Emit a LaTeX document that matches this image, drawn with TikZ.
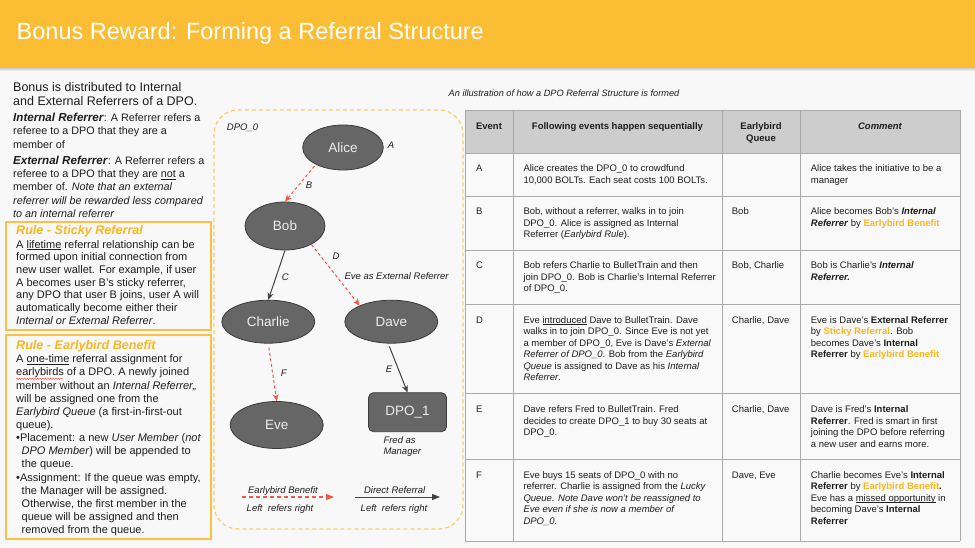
\documentclass[tikz,border=0pt]{standalone}
\usepackage{fontspec}
\setmainfont{Liberation Sans}
\usetikzlibrary{arrows.meta,decorations.pathmorphing,shapes.geometric}

\definecolor{hdr}{RGB}{251,189,51}
\definecolor{pagebg}{RGB}{248,248,248}
\definecolor{ruleorg}{RGB}{251,192,70}
\definecolor{dashorg}{RGB}{253,206,112}
\definecolor{nodefill}{RGB}{102,102,102}
\definecolor{nodeline}{RGB}{58,58,58}
\definecolor{nodetext}{RGB}{238,238,238}
\definecolor{refred}{RGB}{240,88,72}
\definecolor{darkarrow}{RGB}{64,64,64}
\definecolor{tblline}{RGB}{170,170,170}
\definecolor{tblhead}{RGB}{205,205,205}
\definecolor{cellbg}{RGB}{249,249,249}
\definecolor{txt}{RGB}{30,30,30}
\definecolor{hl}{RGB}{250,183,32}

\newcommand{\fsz}[2]{\fontsize{#1}{#2}\selectfont}
\newcommand{\bolditl}[1]{\textbf{\textit{#1}}}
\newcommand{\hlb}[1]{\textcolor{hl}{\textbf{#1}}}
% underline at a fixed distance below the baseline
\newcommand{\undl}[1]{\setbox0\hbox{#1}\rlap{\rule[-1.7pt]{\wd0}{0.55pt}}\box0\relax}
% multi-line blocks whose reference point is the baseline of the first line
\newcommand{\leftlines}[1]{\begin{tabular}[t]{@{}l@{}}#1\end{tabular}}
\newcommand{\centerlines}[1]{\begin{tabular}[t]{@{}c@{}}#1\end{tabular}}

\begin{document}
\begin{tikzpicture}[x=1pt,y=-1pt,
  lefttext/.style={anchor=base west, inner sep=0pt, text=txt},
  ruletitle/.style={anchor=base west, inner sep=0pt, text=hl, font=\fsz{12.6}{15}\bfseries\itshape},
  rulebox/.style={draw=ruleorg, line width=1.3pt},
  person/.style={ellipse, draw=nodeline, fill=nodefill, line width=0.8pt, text=nodetext,
    font=\fsz{13.5}{16}, inner sep=0pt},
  dpobox/.style={rectangle, rounded corners=5pt, draw=nodeline, fill=nodefill, line width=0.8pt,
    text=nodetext, font=\fsz{13.5}{16}, inner sep=0pt, minimum width=78pt, minimum height=39pt},
  lbl/.style={anchor=base west, inner sep=0pt, font=\fsz{9.5}{11}\itshape, text=txt},
  early/.style={refred, line width=1pt, dash pattern=on 3pt off 2.5pt, -{Stealth[length=7pt,width=6pt]}},
  direct/.style={darkarrow, line width=1pt, -{Stealth[length=7pt,width=6pt]}},
  earlyleg/.style={refred, line width=1.3pt, dash pattern=on 4pt off 3pt, -{Triangle[length=8pt,width=6pt]}},
  directleg/.style={darkarrow, line width=1pt, -{Triangle[length=8pt,width=6pt]}},
  tblrule/.style={draw=tblline, line width=0.9pt},
  cell/.style={anchor=base west, inner sep=0pt, font=\fsz{9.5}{11.5}, text=txt},
  head/.style={anchor=base, inner sep=0pt, font=\fsz{9.5}{11.5}\bfseries, text=txt}]

\useasboundingbox (0,0) rectangle (975,548);
\fill[pagebg] (0,0) rectangle (975,548);

% title bar
\fill[top color=black!28, bottom color=pagebg] (0,66.5) rectangle (975,71);
\fill[hdr] (0,0) rectangle (975,66.7);
\node[anchor=base west, inner sep=0pt, text=white, font=\fsz{23.5}{28}] (title) at (16.5,39.3)
  {Bonus Reward: Forming a Referral Structure};

% left column: definitions
\node[lefttext, font=\fsz{12.5}{14.5}] (intro) at (13,91.3)
  {\leftlines{Bonus is distributed to Internal\\and External Referrers of a DPO.}};
\node[lefttext, font=\fsz{10.8}{13.3}] (intref) at (13,121.7)
  {\leftlines{{\fsz{11.6}{13.3}\bolditl{Internal Referrer}}: A Referrer refers a\\referee to a DPO that they are a\\member of}};
\node[lefttext, font=\fsz{10.8}{13.35}] (extref) at (13,164.3)
  {\leftlines{{\fsz{11.6}{13.35}\bolditl{External Referrer}}: A Referrer refers a\\referee to a DPO that they are \undl{not} a\\member of. \textit{Note that an external}\\\textit{referrer will be rewarded less compared}\\\textit{to an internal referrer}}};

% rule boxes
\draw[rulebox] (6,222) rectangle (211,330);
\node[ruletitle] (stickytitle) at (16,234.5) {Rule - Sticky Referral};
\node[lefttext, font=\fsz{11}{12.67}] (stickybody) at (16,248.3)
  {\leftlines{A \undl{lifetime} referral relationship can be\\formed upon initial connection from\\new user wallet. For example, if user\\A becomes user B's sticky referrer,\\any DPO that user B joins, user A will\\automatically become either their\\\textit{Internal or External Referrer}.}};

\draw[rulebox] (6,335) rectangle (211,539);
\node[ruletitle] (earlytitle) at (16,349) {Rule - Earlybird Benefit};
\node[lefttext, font=\fsz{11}{13.15}] (earlybody) at (16,362.7)
  {\leftlines{A \undl{one-time} referral assignment for\\
   earlybirds of a DPO. A newly joined\\
   member without an \textit{Internal Referrer,,}\\
   will be assigned one from the\\
   \textit{Earlybird Queue} (a first-in-first-out\\
   queue).\\
   •Placement: a new \textit{User Member} (\textit{not}\\
   \hspace*{5.5pt}\textit{DPO Member}) will be appended to\\
   \hspace*{5.5pt}the queue.\\
   •Assignment: If the queue was empty,\\
   \hspace*{5.5pt}the Manager will be assigned.\\
   \hspace*{5.5pt}Otherwise, the first member in the\\
   \hspace*{5.5pt}queue will be assigned and then\\
   \hspace*{5.5pt}removed from the queue.}};
\draw[refred, line width=0.5pt, decorate, decoration={snake, amplitude=0.7pt, segment length=2.6pt}]
  (16,378.8) -- (63,378.8);

% DPO_0 referral graph
\draw[dashorg, line width=1.3pt, dash pattern=on 4pt off 3pt, rounded corners=24pt] (214,110) rectangle (463,529);
\node[lbl] (dpo0lbl) at (226.7,130.7) {DPO\_0};

\node[person, minimum width=80.6pt, minimum height=45pt] (alice) at (343,147.5) {Alice};
\node[person, minimum width=80pt, minimum height=48pt] (bob) at (285,226) {Bob};
\node[person, minimum width=93pt, minimum height=43pt] (charlie) at (268.3,321.7) {Charlie};
\node[person, minimum width=93pt, minimum height=43pt] (dave) at (391.3,321.7) {Dave};
\node[person, minimum width=93pt, minimum height=47pt] (eve) at (276.7,425) {Eve};
\node[dpobox] (dpo1) at (407.5,412.2) {DPO\_1};

\draw[early, shorten <=2pt] (alice.212) -- (bob.north);
\draw[direct] (bob.south) -- (charlie.north);
\draw[early] (bob.-35) -- (dave.153);
\draw[early, shorten <=4pt] (charlie.south) -- (eve.north);
\draw[direct, shorten <=3pt] (dave.262) -- (dpo1.north);

\node[lbl] (lblA) at (387.7,148.3) {A};
\node[lbl] (lblB) at (305.7,188.3) {B};
\node[lbl] (lblC) at (281.7,280) {C};
\node[lbl] (lblD) at (332.3,260) {D};
\node[lbl] (lblext) at (344.3,279.3) {Eve as External Referrer};
\node[lbl] (lblF) at (280.7,376) {F};
\node[lbl] (lblE) at (385.7,372.7) {E};
\node[lbl] (fred) at (383.3,443.3) {\leftlines{Fred as\\Manager}};

% legend
\node[lbl, anchor=base] (lgEtxt) at (283,493.3) {Earlybird Benefit};
\coordinate (lgEa) at (241.7,497);
\coordinate (lgEb) at (334,497);
\draw[earlyleg] (lgEa) -- (lgEb);
\node[lbl, anchor=base] (lgEsub) at (280,511.7) {Left\ \ refers right};
\node[lbl, anchor=base] (lgDtxt) at (394.7,493.3) {Direct Referral};
\coordinate (lgDa) at (355,497);
\coordinate (lgDb) at (440,497);
\draw[directleg] (lgDa) -- (lgDb);
\node[lbl, anchor=base] (lgDsub) at (394,511.7) {Left\ \ refers right};

% event table
\node[lbl, anchor=base, font=\fsz{9.2}{11}\itshape] (caption) at (564,96.7)
  {An illustration of how a DPO Referral Structure is formed};
\fill[tblhead] (465,110) rectangle (960,153);
\fill[cellbg] (465,153) rectangle (960,541);
\foreach \yy in {110,153,196,250,304,393,459,541} \draw[tblrule] (465,\yy) -- (960,\yy);
\foreach \xx in {465,513,722,800,960} \draw[tblrule] (\xx,110) -- (\xx,541);

\node[head] (hEvent) at (489,130) {Event};
\node[head] (hSeq) at (617.5,130) {Following events happen sequentially};
\node[head] (hQueue) at (761,130) {\centerlines{Earlybird\\Queue}};
\node[head, font=\fsz{9.5}{11.5}\bfseries\itshape] (hComm) at (880,130) {Comment};

% row A
\node[cell] (aEv) at (476,171.7) {A};
\node[cell] (aSeq) at (523.3,171.7) {\leftlines{Alice creates the DPO\_0 to crowdfund\\10,000 BOLTs. Each seat costs 100 BOLTs.}};
\node[cell] (aCom) at (810.7,171.7) {\leftlines{Alice takes the initiative to be a\\manager}};
% row B
\node[cell] (bEv) at (476,215) {B};
\node[cell] (bSeq) at (523.3,215) {\leftlines{Bob, without a referrer, walks in to join\\DPO\_0. Alice is assigned as Internal\\Referrer (\textit{Earlybird Rule}).}};
\node[cell] (bQ) at (731.7,215) {Bob};
\node[cell] (bCom) at (810.7,215) {\leftlines{Alice becomes Bob's \bolditl{Internal}\\\bolditl{Referrer} by \hlb{Earlybird Benefit}}};
% row C
\node[cell] (cEv) at (476,268.7) {C};
\node[cell] (cSeq) at (523.3,268.7) {\leftlines{Bob refers Charlie to BulletTrain and then\\join DPO\_0. Bob is Charlie's Internal Referrer\\of DPO\_0.}};
\node[cell] (cQ) at (731.7,268.7) {Bob, Charlie};
\node[cell] (cCom) at (810.7,268.7) {\leftlines{Bob is Charlie's \bolditl{Internal}\\\bolditl{Referrer.}}};
% row D
\node[cell] (dEv) at (476,323.3) {D};
\node[cell] (dSeq) at (523.3,323.3) {\leftlines{Eve \undl{introduced} Dave to BulletTrain. Dave\\walks in to join DPO\_0. Since Eve is not yet\\a member of DPO\_0, Eve is Dave's \textit{External}\\\textit{Referrer of DPO\_0}. Bob from the \textit{Earlybird}\\\textit{Queue} is assigned to Dave as his \textit{Internal}\\\textit{Referrer}.}};
\node[cell] (dQ) at (731.7,323.3) {Charlie, Dave};
\node[cell] (dCom) at (810.7,323.3) {\leftlines{Eve is Dave's \textbf{External Referrer}\\by \hlb{Sticky Referral}. Bob\\becomes Dave's \textbf{Internal}\\\textbf{Referrer} by \hlb{Earlybird Benefit}}};
% row E
\node[cell] (eEv) at (476,412.5) {E};
\node[cell] (eSeq) at (523.3,412.5) {\leftlines{Dave refers Fred to BulletTrain. Fred\\decides to create DPO\_1 to buy 30 seats at\\DPO\_0.}};
\node[cell] (eQ) at (731.7,412.5) {Charlie, Dave};
\node[cell] (eCom) at (810.7,412.5) {\leftlines{Dave is Fred's \textbf{Internal}\\\textbf{Referrer}. Fred is smart in first\\joining the DPO before referring\\a new user and earns more.}};
% row F
\node[cell] (fEv) at (476,478) {F};
\node[cell] (fSeq) at (523.3,478) {\leftlines{Eve buys 15 seats of DPO\_0 with no\\referrer. Charlie is assigned from the \textit{Lucky}\\\textit{Queue. Note Dave won't be reassigned to}\\\textit{Eve even if she is now a member of}\\\textit{DPO\_0.}}};
\node[cell] (fQ) at (731.7,478) {Dave, Eve};
\node[cell] (fCom) at (810.7,478) {\leftlines{Charlie becomes Eve's \textbf{Internal}\\\textbf{Referrer} by \hlb{Earlybird Benefit}\textbf{.}\\Eve has a \undl{missed opportunity} in\\becoming Dave's \textbf{Internal}\\\textbf{Referrer}}};

\end{tikzpicture}
\end{document}
